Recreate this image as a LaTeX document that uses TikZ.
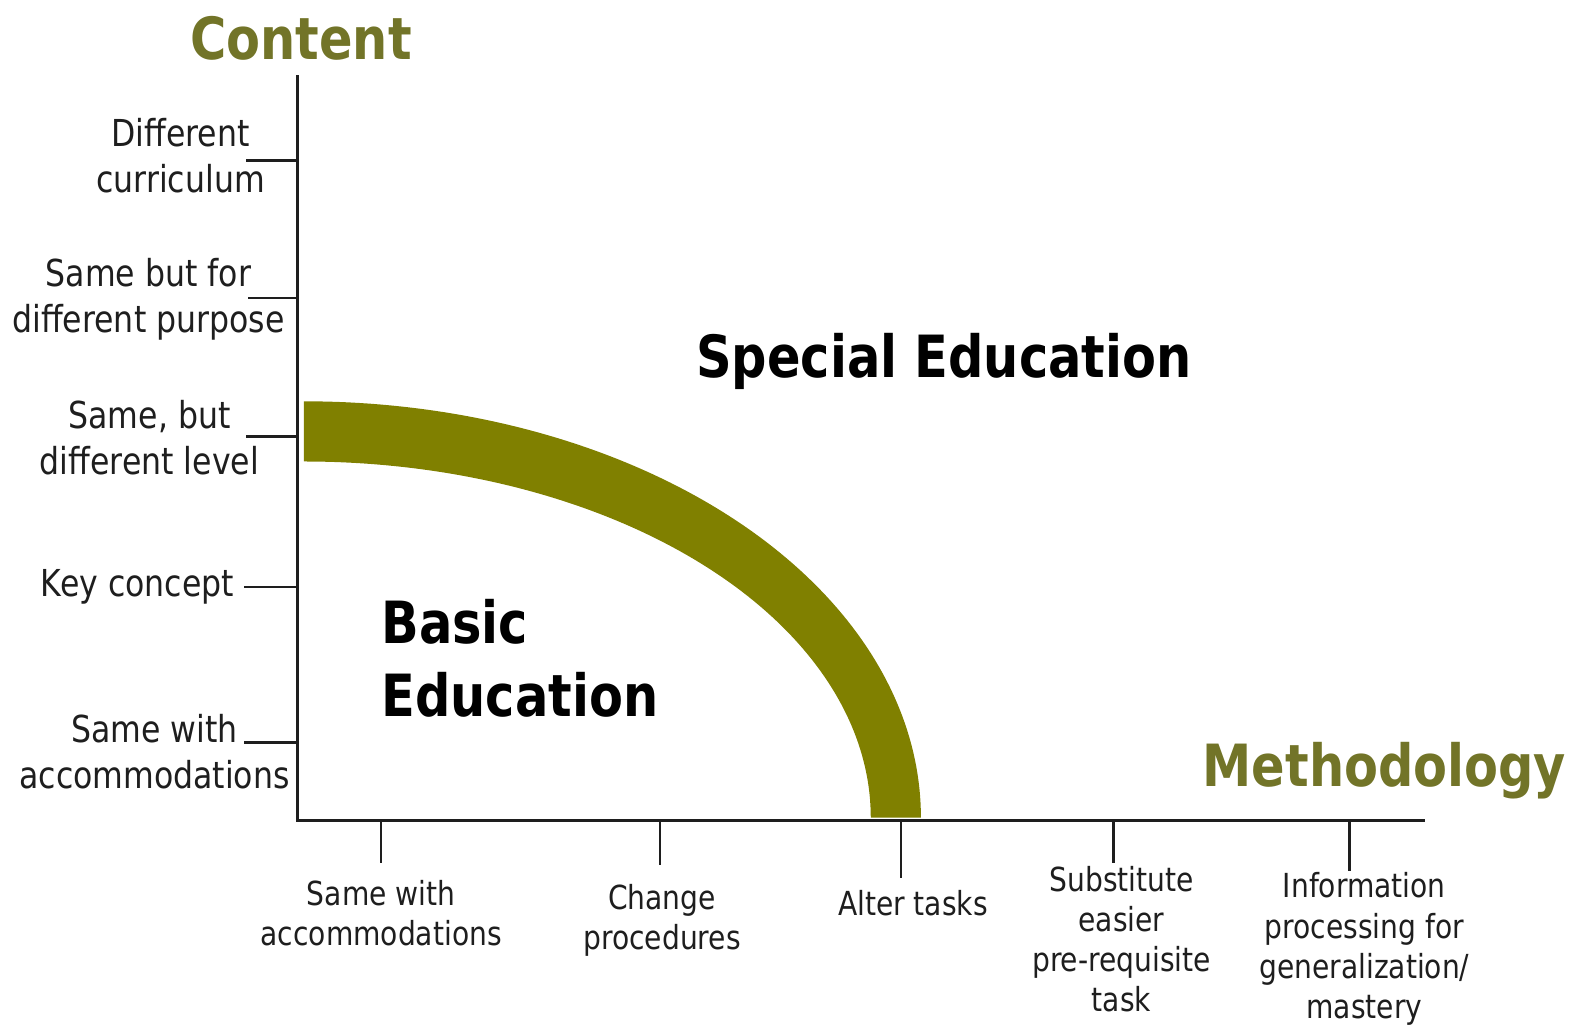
\documentclass[tikz,border=0pt]{standalone}
\usepackage{fontspec}
\setmainfont[FakeStretch=0.85]{DejaVu Sans}
\definecolor{bandolive}{RGB}{128,128,0}
\definecolor{titleolive}{RGB}{114,116,40}
\definecolor{ink}{RGB}{30,30,30}
\begin{document}
\begin{tikzpicture}[x=1pt,y=-1pt,
  axisline/.style={line width=3pt,draw=ink},
  tickline/.style={line width=2.5pt,draw=ink},
  ylab/.style={font=\fontsize{37}{46}\selectfont, align=center, inner sep=0pt, text=ink},
  xlab/.style={font=\fontsize{33}{40}\selectfont, align=center, inner sep=0pt, text=ink},
  axtitle/.style={font=\bfseries\fontsize{58}{70}\selectfont, text=titleolive, inner sep=0pt},
  region/.style={font=\bfseries\fontsize{58}{73}\selectfont, inner sep=0pt, text=black},
]
\useasboundingbox (0,0) rectangle (1568,1021);

% band
\fill[bandolive] plot[domain=0:90,samples=90] ({303+615*sin(\x)},{815-415*cos(\x)})
  -- plot[domain=90:0,samples=90] ({303+565*sin(\x)},{815-355*cos(\x)}) -- cycle;

% axes
\coordinate (ytop) at (297,75);
\coordinate (origin) at (297,818);
\coordinate (xend) at (1420,818);
\draw[axisline] (ytop) -- (origin) -- (xend);

% titles
\node[axtitle] (content) at (300,38) {Content};
\node[axtitle] (method) at (1380,768) {Methodology};

% regions
\node[region] (special) at (941,360) {Special Education};
\node[region, anchor=west, align=left] (basic) at (380,656) {Basic\\Education};

% y axis ticks and labels
\coordinate (ya1) at (297,160); \coordinate (yt1) at (245,160);
\coordinate (ya2) at (297,297); \coordinate (yt2) at (247,297);
\coordinate (ya3) at (297,435); \coordinate (yt3) at (245,435);
\coordinate (ya4) at (297,585); \coordinate (yt4) at (243,585);
\coordinate (ya5) at (297,740); \coordinate (yt5) at (243,740);
\foreach \i in {1,...,5} \draw[tickline] (ya\i) -- (yt\i);

\node[ylab] (yl1) at (180,155) {Different\\curriculum};
\node[ylab] (yl2) at (148,298) {Same but for\\different purpose};
\node[ylab] (yl3) at (149,436) {Same, but\\different level};
\node[ylab] (yl4) at (137,585) {Key concept};
\node[ylab] (yl5) at (154,749) {Same with\\accommodations};

% x axis ticks and labels
\coordinate (xa1) at (380,818); \coordinate (xt1) at (380,860);
\coordinate (xa2) at (658,818); \coordinate (xt2) at (658,862);
\coordinate (xa3) at (898,818); \coordinate (xt3) at (898,875);
\coordinate (xa4) at (1110,818); \coordinate (xt4) at (1110,860);
\coordinate (xa5) at (1345,818); \coordinate (xt5) at (1345,868);
\foreach \i in {1,...,5} \draw[tickline] (xa\i) -- (xt\i);

\node[xlab] (xl1) at (380,910) {Same with\\accommodations};
\node[xlab] (xl2) at (660,917) {Change\\procedures};
\node[xlab] (xl3) at (910,900) {Alter tasks};
\node[xlab] (xl4) at (1118,936) {Substitute\\easier\\pre-requisite\\task};
\node[xlab] (xl5) at (1360,946) {Information\\processing for\\generalization/\\mastery};
\end{tikzpicture}
\end{document}
